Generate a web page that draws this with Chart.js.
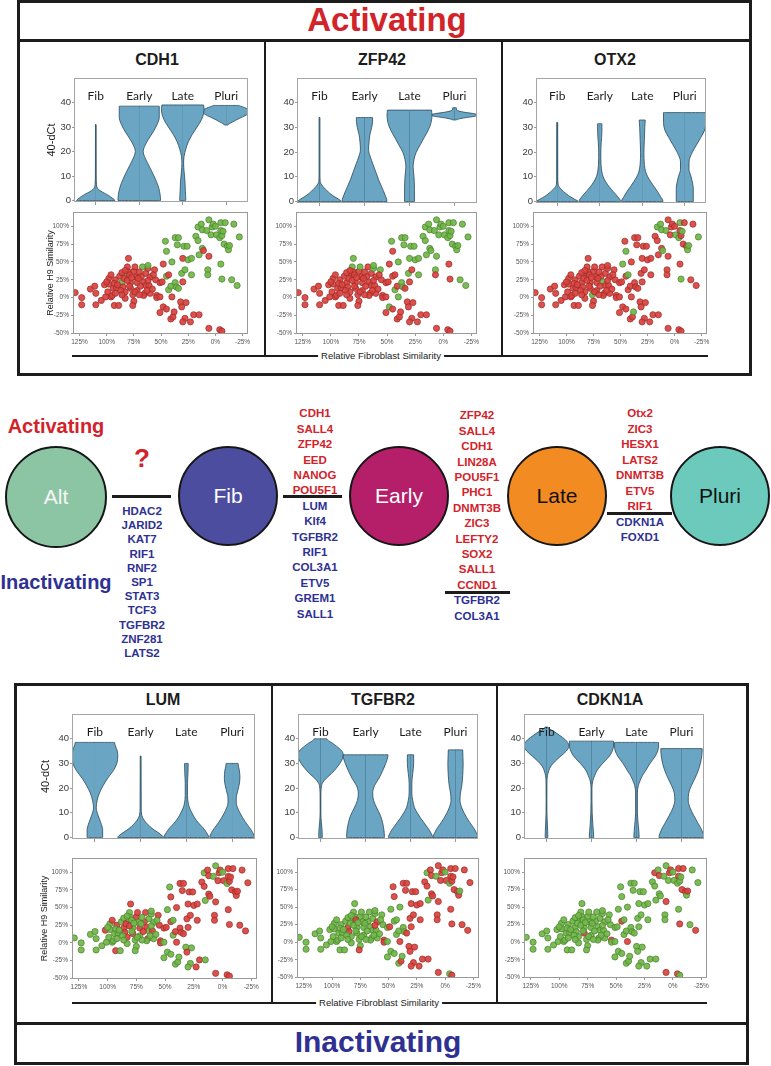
<!DOCTYPE html>
<html>
<head>
<meta charset="utf-8">
<title>Activating / Inactivating genes</title>
<script src="https://cdn.jsdelivr.net/npm/chart.js@4.4.1/dist/chart.umd.min.js"></script>
<style>
  body { margin: 0; background: #fff; }
  #page { position: relative; width: 771px; height: 1066px; overflow: hidden; font-family: "Liberation Sans", Arial, sans-serif; }
  #page canvas, .box, .rule, .txt, .node, .genes { position: absolute; }
  .box { border: 3px solid #1c1c1c; box-sizing: border-box; }
  .rule { background: #1c1c1c; }
  .txt { transform: translate(-50%, -50%); white-space: nowrap; line-height: 1; }
  .title { font-weight: bold; font-size: 16px; color: #1c1c1c; }
  .axislab { font-size: 9.5px; color: #222; background: #fff; padding: 0 3px; }
  .node { border: 2px solid #161616; border-radius: 50%; box-sizing: border-box; display: flex; align-items: center; justify-content: center; font-size: 21px; }
  .genes { transform: translateX(-50%); text-align: center; font-weight: bold; font-size: 11.5px; white-space: nowrap; }
</style>
</head>
<body>
<div id="page">
  <!-- top panel -->
  <div class="box" style="left:17px;top:0;width:735px;height:376px"></div>
  <div class="rule" style="left:17px;top:39px;width:735px;height:3px"></div>
  <div class="txt" style="left:387px;top:19px;font-size:33px;font-weight:bold;color:#d2232a">Activating</div>
  <div class="rule" style="left:264px;top:41px;width:2px;height:315px"></div>
  <div class="rule" style="left:501px;top:41px;width:2px;height:315px"></div>
  <div class="rule" style="left:72px;top:355px;width:636px;height:2px"></div>
  <div class="txt axislab" style="left:381px;top:356px">Relative Fibroblast Similarity</div>
  <div class="txt title" style="left:157px;top:60px">CDH1</div>
  <div class="txt title" style="left:382px;top:60px">ZFP42</div>
  <div class="txt title" style="left:615px;top:60px">OTX2</div>

  <!-- middle diagram -->
  <div class="txt" style="left:56px;top:426px;font-size:20px;font-weight:bold;color:#d2232a">Activating</div>
  <div class="txt" style="left:56px;top:582px;font-size:20px;font-weight:bold;color:#2e3192">Inactivating</div>
  <div class="txt" style="left:142px;top:458px;font-size:26px;font-weight:bold;color:#d2232a">?</div>
  <div class="rule" style="left:112px;top:495px;width:59px;height:3px"></div>
  <div class="rule" style="left:283px;top:495px;width:59px;height:3px"></div>
  <div class="rule" style="left:445px;top:591px;width:65px;height:3px"></div>
  <div class="rule" style="left:607px;top:512px;width:65px;height:3px"></div>
  <div class="node" style="left:5px;top:446px;width:102px;height:102px;background:#8cc5a4;color:#f6f6f6">Alt</div>
  <div class="node" style="left:178px;top:446px;width:100px;height:100px;background:#4d4d9f;color:#fff">Fib</div>
  <div class="node" style="left:349px;top:446px;width:100px;height:100px;background:#b51f69;color:#fff">Early</div>
  <div class="node" style="left:507px;top:446px;width:100px;height:100px;background:#f28b21;color:#111">Late</div>
  <div class="node" style="left:670px;top:446px;width:100px;height:100px;background:#6ccabd;color:#111">Pluri</div>

  <!-- bottom panel -->
  <div class="box" style="left:14px;top:683px;width:735px;height:382px"></div>
  <div class="rule" style="left:14px;top:1022px;width:735px;height:3px"></div>
  <div class="txt" style="left:378px;top:1042px;font-size:30px;font-weight:bold;color:#2e3192">Inactivating</div>
  <div class="rule" style="left:271px;top:685px;width:2px;height:318px"></div>
  <div class="rule" style="left:496px;top:685px;width:2px;height:318px"></div>
  <div class="rule" style="left:72px;top:1002px;width:635px;height:2px"></div>
  <div class="txt axislab" style="left:379px;top:1003px">Relative Fibroblast Similarity</div>
  <div class="txt title" style="left:163px;top:700px">LUM</div>
  <div class="txt title" style="left:383px;top:700px">TGFBR2</div>
  <div class="txt title" style="left:610px;top:700px">CDKN1A</div>
</div>
<script>
Chart.defaults.font.family = "'Liberation Sans', Arial, sans-serif";

const categories = ["Fib", "Early", "Late", "Pluri"];
const dctTicks = [0, 10, 20, 30, 40];
const h9Ticks = [-50, -25, 0, 25, 50, 75, 100];
const fibroTicks = [125, 100, 75, 50, 25, 0, -25];

// violin outlines per stage: [40-dCt, half width in stage units]
const violinCDH1 = [
  [[0,0.44],[1,0.38],[2,0.3],[3,0.2],[4,0.1],[5,0.04],[6.5,0.015],[10,0.008],[31,0.006]],
  [[0,0.49],[5,0.45],[10,0.34],[15,0.2],[18,0.12],[20,0.09],[22,0.12],[25,0.21],[28,0.32],[31,0.41],[34,0.46],[38.5,0.46]],
  [[0,0.07],[4,0.06],[8,0.05],[12,0.03],[15,0.02],[18,0.03],[21,0.07],[24,0.13],[27,0.22],[30,0.33],[33,0.43],[35.5,0.48],[37.5,0.49],[39,0.48]],
  [[30.8,0.04],[32,0.14],[33.5,0.3],[35,0.47],[36.2,0.55],[37.3,0.5],[38.2,0.38],[38.8,0.3]]
];
const violinZFP42 = [
  [[0,0.48],[1,0.42],[2,0.33],[3,0.25],[4,0.19],[5,0.13],[6,0.08],[7,0.04],[8,0.015],[12,0.01],[34,0.01]],
  [[0,0.5],[3,0.45],[6,0.38],[9,0.31],[12,0.25],[15,0.19],[18,0.13],[21,0.09],[24,0.1],[27,0.12],[30,0.16],[32.5,0.18],[34,0.18]],
  [[0,0.11],[5,0.11],[10,0.1],[14,0.08],[17,0.1],[20,0.15],[23,0.24],[26,0.33],[29,0.42],[32,0.48],[35,0.5],[37,0.49]],
  [[33,0.04],[33.8,0.2],[34.5,0.45],[35,0.52],[35.5,0.45],[36.2,0.2],[37,0.05],[38,0.04]]
];
const violinOTX2 = [
  [[0,0.49],[1,0.4],[2,0.3],[3,0.22],[4,0.15],[5,0.09],[6,0.04],[7,0.02],[10,0.012],[32,0.01]],
  [[0,0.49],[2,0.42],[4,0.32],[6,0.22],[8,0.14],[10,0.08],[12,0.05],[15,0.03],[20,0.025],[24,0.035],[28,0.05],[31.5,0.05]],
  [[0,0.49],[2,0.43],[4,0.36],[6,0.28],[8,0.2],[10,0.13],[12,0.08],[15,0.05],[20,0.04],[25,0.05],[30,0.06],[33,0.07]],
  [[0,0.2],[5,0.2],[10,0.15],[13,0.1],[16,0.1],[20,0.18],[23,0.28],[26,0.38],[29,0.47],[32,0.5],[36,0.5]]
];
const violinLUM = [
  [[0,0.17],[3,0.17],[6,0.13],[9,0.07],[12,0.03],[15,0.05],[18,0.1],[21,0.18],[24,0.28],[27,0.4],[30,0.48],[33,0.5],[35,0.49],[37,0.45],[38.5,0.43]],
  [[0,0.5],[1.5,0.42],[3,0.3],[4.5,0.2],[6,0.12],[7.5,0.06],[9,0.025],[12,0.012],[33,0.008]],
  [[0,0.49],[2,0.44],[4,0.36],[6,0.26],[8,0.18],[10,0.12],[12,0.07],[14,0.04],[17,0.025],[22,0.025],[26,0.035],[30,0.04]],
  [[0,0.49],[2,0.45],[4,0.38],[6,0.3],[8,0.23],[10,0.17],[12,0.12],[14,0.09],[16,0.09],[18,0.11],[21,0.15],[24,0.17],[27,0.16],[30,0.13]]
];
const violinTGFBR2 = [
  [[0,0.04],[3,0.035],[6,0.02],[10,0.008],[16,0.008],[20,0.015],[22,0.04],[24,0.13],[26,0.25],[28,0.35],[30,0.43],[32,0.49],[34,0.5],[36,0.42],[38,0.28],[40,0.14]],
  [[0,0.42],[3,0.41],[6,0.38],[9,0.33],[12,0.25],[15,0.18],[18,0.16],[21,0.2],[24,0.3],[27,0.38],[30,0.45],[33.5,0.5]],
  [[0,0.49],[2,0.45],[4,0.38],[6,0.3],[8,0.22],[10,0.15],[12,0.09],[15,0.05],[18,0.03],[22,0.03],[26,0.05],[30,0.07],[33.5,0.07]],
  [[0,0.5],[2,0.46],[4,0.4],[6,0.32],[8,0.25],[10,0.19],[12,0.14],[15,0.1],[18,0.11],[21,0.14],[25,0.16],[30,0.17],[35.5,0.16]]
];
const violinCDKN1A = [
  [[0,0.03],[5,0.02],[10,0.01],[15,0.008],[22,0.01],[25,0.02],[27,0.05],[29,0.1],[31,0.2],[33,0.32],[35,0.44],[37,0.5],[39,0.45],[41,0.32],[43,0.16],[44.7,0.03]],
  [[0,0.05],[5,0.03],[10,0.015],[20,0.01],[23,0.03],[25,0.07],[27,0.12],[29,0.2],[31,0.3],[33,0.4],[35,0.46],[37,0.49],[39,0.49]],
  [[0,0.06],[5,0.04],[10,0.02],[18,0.02],[21,0.04],[23,0.08],[25,0.13],[27,0.2],[30,0.3],[33,0.42],[35,0.47],[37,0.49],[38.5,0.49]],
  [[0,0.5],[3,0.45],[6,0.36],[9,0.27],[12,0.19],[15,0.15],[18,0.16],[21,0.22],[24,0.3],[27,0.37],[30,0.42],[33,0.45],[36,0.46]]
];

// single cells: relative fibroblast similarity (%) and relative H9 similarity (%)
const fibroSim = [
  129, 123, 123, 115, 111, 110, 110, 105, 101, 102,
  99, 98, 98, 96, 96, 94, 93, 92, 91, 89,
  95, 93, 86, 85, 83, 83, 82, 81, 80, 80,
  78, 78, 76, 75, 75, 74, 73, 72, 72, 76,
  79, 68, 67, 66, 65, 64, 66, 64, 62, 62,
  60, 61, 60, 63, 56, 55, 54, 54, 51, 51,
  49, 48, 46, 45, 45, 43, 43, 51, 48, 45,
  41, 41, 39, 38, 40, 40, 37, 34, 35, 37,
  36, 34, 32, 31, 30, 29, 28, 30, 27, 31,
  26, 25, 22, 22, 23, 20, 15, 28, 30, 18,
  16, 16, 15, 13, 12, 12, 11, 8, 6, 6,
  7, 7, 6, 4, 3, 2, 0, -1, -4, -5,
  -5, -5, -6, -7, -8, -6, -4, -6, -9, -11,
  -12, -13, -15, -17, -20, -22,
  88, 86, 84, 90, 87, 81, 79, 77, 83, 70,
  69, 71, 74, 86, 92, 100, 70, 58, 57, 62
];
const h9Sim = [
  7, 0, -10, 12, 16, 6, -10, -4, 1, 18,
  8, 19, 27, 32, 1, 13, -11, 25, 14, -11,
  3, 20, 21, 15, 8, -1, 32, 43, 55, 36,
  21, 13, 4, -5, 37, 43, 29, 21, 10, -11,
  32, 30, 43, 22, 6, 17, 3, 34, 41, 45,
  29, 17, 6, 10, 39, 25, 3, 0, 21, 1,
  22, 47, 79, 65, 30, 32, 11, -21, -13, -16,
  16, -30, -27, -20, 1, 50, 84, 84, 74, 21,
  15, 13, -6, 34, 55, 72, 39, 22, -7, -13,
  72, 53, 55, 32, -34, -24, -24, -29, -34, 86,
  99, 80, 60, 103, 95, 69, 66, 94, 109, 58,
  39, 32, -43, 88, 99, 103, 100, 88, 84, 47,
  94, 105, 87, 93, 75, 26, -45, -47, 105, 72,
  67, 73, 25, 103, 17, 85,
  30, 35, 27, 18, 10, 24, 16, 28, 38, 36,
  16, 27, 8, 4, 6, 22, 4, 12, 32, 24
];

// cell numbers (1-based) drawn green for each gene; all others red
const greenCDH1 = [23, 27, 43, 50, 63, 64, 65, 67, 71, 76, 77, 78, 79, 80, 81, 82, 84, 86, 87, 91, 92, 93, 94,
  100, 101, 102, 103, 104, 105, 106, 108, 109, 111, 112, 114, 115, 116, 117, 118, 119, 120, 121, 122, 123, 124,
  125, 126, 129, 130, 131, 132, 133, 134, 135, 136];
const greenZFP42 = [28, 29, 36, 49, 50, 55, 63, 67, 69, 75, 76, 77, 78, 79, 80, 81, 84, 85, 86, 91, 92, 93, 94,
  100, 101, 102, 103, 104, 105, 106, 107, 108, 109, 110, 111, 114, 115, 116, 117, 118, 119, 121, 122, 123, 124,
  125, 129, 130, 131, 132, 133, 134, 135, 136];
const greenOTX2 = [33, 44, 62, 64, 66, 74, 101, 104, 105, 107, 108, 118, 119, 122, 124, 126, 131, 132, 136];
const greenLUM = [1, 2, 3, 4, 5, 6, 7, 8, 9, 11, 12, 13, 15, 16, 19, 20, 21, 22, 26, 27, 28, 30, 31, 33, 34, 37,
  39, 40, 41, 46, 47, 48, 49, 50, 51, 53, 54, 60, 62, 63, 66, 67, 68, 69, 70, 72, 73, 74, 83, 89, 97, 98, 99, 101,
  103, 108, 109, 117, 119, 137, 138, 140, 141, 143, 144, 145, 146, 148, 149, 150, 151, 152, 153, 154, 155, 156];
const greenTGFBR2 = [1, 2, 3, 4, 5, 6, 7, 8, 9, 10, 11, 12, 13, 14, 15, 16, 17, 18, 19, 20, 21, 22, 25, 26, 27, 28,
  29, 30, 31, 32, 33, 34, 35, 36, 37, 38, 39, 42, 43, 44, 45, 46, 47, 48, 49, 50, 52, 53, 54, 55, 56, 59, 60, 62,
  65, 66, 67, 68, 69, 70, 71, 72, 74, 76, 80, 81, 101, 103, 108, 117, 119, 127, 132, 137, 138, 139, 140, 141, 142,
  143, 144, 145, 146, 147, 148, 149, 150, 151, 152, 153, 154, 155];
// CDKN1A is mostly green: these cells are red
const redCDKN1A = [32, 57, 65, 75, 101, 105, 110, 113, 115, 116, 121, 122, 125, 126, 127, 129, 130, 132, 135];

// gene lists of the transition diagram
const altDown = ["HDAC2", "JARID2", "KAT7", "RIF1", "RNF2", "SP1", "STAT3", "TCF3", "TGFBR2", "ZNF281", "LATS2"];
const fibUp = ["CDH1", "SALL4", "ZFP42", "EED", "NANOG", "POU5F1"];
const fibDown = ["LUM", "Klf4", "TGFBR2", "RIF1", "COL3A1", "ETV5", "GREM1", "SALL1"];
const earlyUp = ["ZFP42", "SALL4", "CDH1", "LIN28A", "POU5F1", "PHC1", "DNMT3B", "ZIC3", "LEFTY2", "SOX2", "SALL1", "CCND1"];
const earlyDown = ["TGFBR2", "COL3A1"];
const lateUp = ["Otx2", "ZIC3", "HESX1", "LATS2", "DNMT3B", "ETV5", "RIF1"];
const lateDown = ["CDKN1A", "FOXD1"];

const upRed = "#d2232a";
const downBlue = "#2e3192";
const page = document.getElementById("page");

function geneColumn(cx, firstY, step, up, down) {
  const col = document.createElement("div");
  col.className = "genes";
  col.style.left = cx + "px";
  col.style.top = (firstY - step / 2) + "px";
  col.style.lineHeight = step + "px";
  up.forEach(g => { const d = document.createElement("div"); d.textContent = g; d.style.color = upRed; col.appendChild(d); });
  down.forEach(g => { const d = document.createElement("div"); d.textContent = g; d.style.color = downBlue; col.appendChild(d); });
  page.appendChild(col);
}
geneColumn(142, 511, 14.2, [], altDown);
geneColumn(315, 414, 15.4, fibUp, fibDown);
geneColumn(477, 416, 15.4, earlyUp, earlyDown);
geneColumn(640, 414, 15.5, lateUp, lateDown);

// canvas placed so that its chart area lands on the frame [x, y, w, h]
function makeCanvas(frame, pad) {
  const c = document.createElement("canvas");
  const w = frame[2] + pad.l + pad.r, h = frame[3] + pad.t + pad.b;
  c.width = w; c.height = h;
  c.style.left = (frame[0] - pad.l) + "px";
  c.style.top = (frame[1] - pad.t) + "px";
  c.style.width = w + "px"; c.style.height = h + "px";
  page.appendChild(c);
  return c;
}

function frameBox(color) {
  return {
    id: "frameBox",
    afterDraw(chart) {
      const a = chart.chartArea, ctx = chart.ctx;
      ctx.save();
      ctx.strokeStyle = color;
      ctx.lineWidth = 1;
      ctx.strokeRect(a.left + 0.5, a.top + 0.5, a.right - a.left - 1, a.bottom - a.top - 1);
      ctx.restore();
    }
  };
}

const stageLabels = {
  id: "stageLabels",
  afterDatasetsDraw(chart) {
    const {ctx, scales: {x, y}} = chart;
    ctx.save();
    ctx.font = "12px Lato";
    ctx.fillStyle = "#1c1c1c";
    ctx.textAlign = "center";
    ctx.textBaseline = "middle";
    categories.forEach((c, i) => ctx.fillText(c, x.getPixelForValue(i + 0.5), y.getPixelForValue(42.5)));
    ctx.restore();
  }
};

function violinDatasets(profiles) {
  const sets = [];
  profiles.forEach((prof, i) => {
    const c = i + 0.5;
    const lo = prof[0][0], hi = prof[prof.length - 1][0];
    [1, -1].forEach(side => {
      const pts = prof.map(([y, w]) => ({x: c + side * w, y: y}));
      pts.unshift({x: c, y: lo});
      pts.push({x: c, y: hi});
      sets.push({
        data: pts, fill: {value: c}, backgroundColor: "#6aa6c4", borderColor: "#27475c",
        borderWidth: 0.8, pointRadius: 0, cubicInterpolationMode: "monotone"
      });
    });
    sets.push({data: [{x: c, y: lo}, {x: c, y: hi}], borderColor: "#1b2f3d", borderWidth: 1, pointRadius: 0, fill: false});
  });
  return sets;
}

function violinChart(frame, leftW, profiles, withTitle) {
  const pad = {l: leftW, r: 1, t: 1, b: 3};
  new Chart(makeCanvas(frame, pad), {
    type: "line",
    data: {datasets: violinDatasets(profiles)},
    options: {
      responsive: false, animation: false, indexAxis: "y",
      layout: {autoPadding: false, padding: {top: pad.t, right: pad.r, left: 0, bottom: 0}},
      plugins: {legend: {display: false}, tooltip: {enabled: false}},
      scales: {
        x: {
          type: "linear", min: 0, max: 4,
          ticks: {display: false},
          grid: {drawOnChartArea: false, tickLength: 3, color: "#999"},
          border: {display: false},
          afterBuildTicks: s => { s.ticks = categories.map((_, i) => ({value: i + 0.5})); },
          afterFit: s => { s.height = pad.b; s.paddingLeft = 0; s.paddingRight = 0; }
        },
        y: {
          type: "linear", min: -0.6, max: 50,
          ticks: {font: {size: 9.5}, color: "#3a3a3a", padding: 1},
          grid: {drawOnChartArea: false, tickLength: 2, color: "#999"},
          border: {display: false},
          title: {display: withTitle, text: "40-dCt", font: {size: 11}, color: "#1c1c1c", padding: 0},
          afterBuildTicks: s => { s.ticks = dctTicks.map(v => ({value: v})); },
          afterFit: s => { s.width = pad.l; s.paddingTop = 0; s.paddingBottom = 0; }
        }
      }
    },
    plugins: [stageLabels, frameBox("#a5a5a5")]
  });
}

function scatterChart(frame, leftW, withTitle, greenIds, redIds) {
  const pad = {l: leftW, r: 6, t: 1, b: 13};
  const marked = new Set(greenIds || redIds);
  const isGreen = fibroSim.map((_, i) => greenIds ? marked.has(i + 1) : !marked.has(i + 1));
  new Chart(makeCanvas(frame, pad), {
    type: "scatter",
    data: {
      datasets: [{
        data: fibroSim.map((x, i) => ({x: x, y: h9Sim[i]})),
        pointRadius: 3.1, pointBorderWidth: 0.7,
        backgroundColor: isGreen.map(g => g ? "rgba(112,182,70,0.92)" : "rgba(216,66,62,0.92)"),
        borderColor: isGreen.map(g => g ? "#4a7f30" : "#9b2b28")
      }]
    },
    options: {
      responsive: false, animation: false,
      layout: {autoPadding: false, padding: {top: pad.t, right: pad.r, left: 0, bottom: 0}},
      plugins: {legend: {display: false}, tooltip: {enabled: false}},
      scales: {
        x: {
          type: "linear", reverse: true, min: -30, max: 131,
          ticks: {font: {size: 6.5}, color: "#555", padding: 2, maxRotation: 0, autoSkip: false, callback: v => v + "%"},
          grid: {drawOnChartArea: false, tickLength: 2, color: "#999"},
          border: {display: false},
          afterBuildTicks: s => { s.ticks = fibroTicks.map(v => ({value: v})); },
          afterFit: s => { s.height = pad.b; s.paddingLeft = 0; s.paddingRight = 0; }
        },
        y: {
          type: "linear", min: -51, max: 120,
          ticks: {font: {size: 6.5}, color: "#555", padding: 2, callback: v => v + "%"},
          grid: {drawOnChartArea: false, tickLength: 2, color: "#999"},
          border: {display: false},
          title: {display: withTitle, text: "Relative H9 Similarity", font: {size: 9}, color: "#1c1c1c", padding: 0},
          afterBuildTicks: s => { s.ticks = h9Ticks.map(v => ({value: v})); },
          afterFit: s => { s.width = pad.l; s.paddingTop = 0; s.paddingBottom = 0; }
        }
      }
    },
    plugins: [frameBox("#9a9a9a")]
  });
}

violinChart([74, 78, 174, 124], 29, violinCDH1, true);
violinChart([297, 78, 180, 125], 22, violinZFP42, false);
violinChart([536, 78, 170, 125], 22, violinOTX2, false);
scatterChart([73, 212, 175, 122], 28, true, greenCDH1);
scatterChart([296, 212, 181, 122], 22, false, greenZFP42);
scatterChart([533, 212, 174, 122], 22, false, greenOTX2);

violinChart([72, 714, 183, 125], 33, violinLUM, true);
violinChart([298, 714, 180, 125], 22, violinTGFBR2, false);
violinChart([524, 714, 180, 125], 22, violinCDKN1A, false);
scatterChart([72, 858, 185, 121], 33, true, greenLUM);
scatterChart([297, 858, 182, 120], 22, false, greenTGFBR2);
scatterChart([524, 858, 183, 120], 22, false, null, redCDKN1A);
</script>
</body>
</html>
